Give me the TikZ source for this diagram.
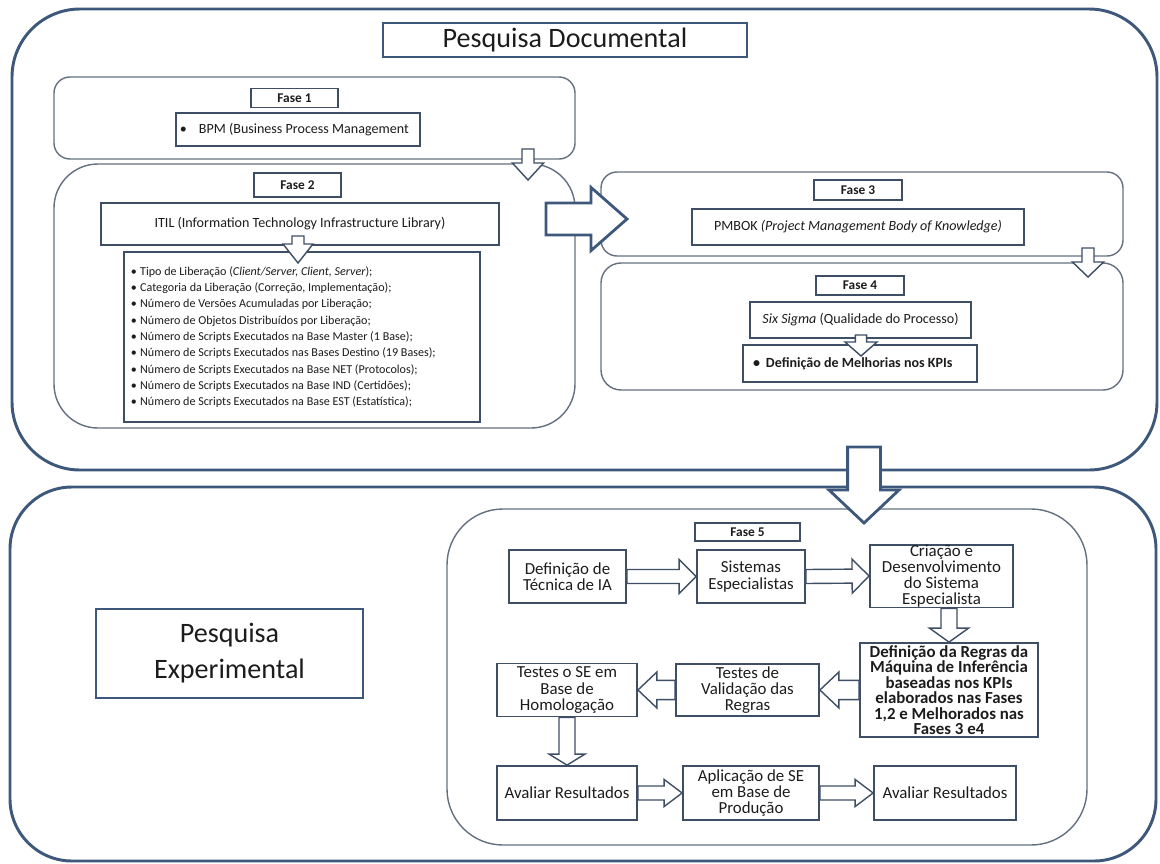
\documentclass[tikz,border=0pt]{standalone}
\usepackage{fontspec}
\setmainfont{Carlito}
\usetikzlibrary{calc}

\definecolor{frameblue}{RGB}{61,88,122}
\definecolor{phasegray}{RGB}{100,112,128}
\definecolor{boxline}{RGB}{62,78,100}
\definecolor{inkdark}{RGB}{28,28,28}

% hollow block arrow from #2 to #3: shaft half width #4, head half width #5, head length #6
\newcommand{\hollowarrow}[6][]{%
  \coordinate (hb) at ($(#3)!#6!(#2)$);
  \draw[#1] ($(#2)!#4!90:(#3)$) -- ($(hb)!#4!90:(#3)$) -- ($(hb)!#5!90:(#3)$)
    -- (#3) -- ($(hb)!#5!-90:(#3)$) -- ($(hb)!#4!-90:(#3)$)
    -- ($(#2)!#4!-90:(#3)$) -- cycle;}
\newcommand{\relitem}{\makebox[2.3mm][l]{\textbullet}}

\begin{document}
\begin{tikzpicture}[x=0.25mm, y=-0.25mm,
sz/.style 2 args={minimum width=#1*0.25mm, minimum height=#2*0.25mm},
outerframe/.style={draw=frameblue, line width=2.1pt, rounded corners=#1},
phasebox/.style={draw=phasegray, line width=1pt, rounded corners=#1},
titlebox/.style={draw=frameblue, line width=1.9pt, text=inkdark, font=\fontsize{20}{25.6}\selectfont, align=center, inner sep=0pt},
phaselabel/.style={draw=boxline, line width=1.1pt, text=inkdark, font=\bfseries\fontsize{9.5}{11}\selectfont, inner sep=0pt},
textbox/.style={draw=boxline, line width=1.1pt, text=inkdark, font=\fontsize{10}{12}\selectfont, inner sep=0pt, align=center},
stepbox/.style={draw=boxline, line width=1.3pt, text=inkdark, font=\fontsize{12}{11.5}\selectfont, inner sep=0pt, align=center},
bigarrow/.style={draw=frameblue, line width=2pt, fill=white},
smallarrow/.style={draw=boxline, line width=1pt, fill=white},
]
\useasboundingbox (0,0) rectangle (1160,864);

%Frames
\node[outerframe=17mm, sz={1145}{461}] at (584.5,239.5) (docFrame) {};
\node[outerframe=15.5mm, sz={1146}{374}] at (583,674) (expFrame) {};
\node[phasebox=4mm, sz={521}{82}]  at (314.5,118) (fase1box) {};
\node[phasebox=11mm, sz={521}{264}] at (314.5,296) (fase2box) {};
\node[phasebox=4mm, sz={522}{84}]  at (862,214) (fase3box) {};
\node[phasebox=5mm, sz={522}{127}] at (862,326.5) (fase4box) {};
\node[phasebox=14mm, sz={640}{336}] at (767,677) (fase5box) {};

%Titles
\node[titlebox, sz={364}{34}] at (565,40) (docTitle) {Pesquisa Documental};
\node[titlebox, sz={267}{89}] at (229.5,653.5) (expTitle) {Pesquisa\\Experimental};

%Phase labels
\node[phaselabel, sz={87}{19}]  at (294.5,98) (lblF1) {Fase 1};
\node[phaselabel, sz={87}{24}]  at (297.5,185) (lblF2) {Fase 2};
\node[phaselabel, sz={88}{20}]  at (858,190) (lblF3) {Fase 3};
\node[phaselabel, sz={88}{19}]  at (860,285.5) (lblF4) {Fase 4};
\node[phaselabel, sz={105}{18}] at (747.5,532) (lblF5) {Fase 5};

%Research boxes
\node[textbox, sz={244}{33}, text width=59mm, inner xsep=1mm, align=flush left] at (298,129.5) (bpm)
  {\makebox[4.75mm][l]{\textbullet}BPM (Business Process Management};
\node[textbox, sz={398}{42}] at (300,224) (itil)
  {ITIL (Information Technology Infrastructure Library)};
\node[textbox, sz={356}{170}, text width=85.5mm, inner xsep=1.75mm, align=flush left,
  font=\fontsize{8.6}{11.6}\selectfont] at (302,337) (relList)
  {\relitem Tipo de Liberação (\textit{Client/Server, Client, Server});\\
   \relitem Categoria da Liberação (Correção, Implementação);\\
   \relitem Número de Versões Acumuladas por Liberação;\\
   \relitem Número de Objetos Distribuídos por Liberação;\\
   \relitem Número de Scripts Executados na Base Master (1 Base);\\
   \relitem Número de Scripts Executados nas Bases Destino (19 Bases);\\
   \relitem Número de Scripts Executados na Base NET (Protocolos);\\
   \relitem Número de Scripts Executados na Base IND (Certidões);\\
   \relitem Número de Scripts Executados na Base EST (Estatística);};
\node[textbox, sz={332}{36}] at (858,227) (pmbok)
  {PMBOK \textit{(Project Management Body of Knowledge)}};
\node[textbox, sz={221}{36}] at (860.5,320) (sixSigma)
  {\textit{Six Sigma} (Qualidade do Processo)};
\node[textbox, sz={234}{37}, text width=53.5mm, inner xsep=2.5mm, align=flush left,
  font=\bfseries\fontsize{10}{12}\selectfont] at (860,363.5) (kpiBox)
  {\makebox[3.25mm][l]{\textbullet}Definição de Melhorias nos KPIs};

%Fase 5 steps
\node[stepbox, sz={117}{53}] at (567.5,576.5) (defIA) {Definição de\\Técnica de IA};
\node[stepbox, sz={108}{53}] at (751,576.5) (sistEsp) {Sistemas\\Especialistas};
\node[stepbox, sz={143}{55}] at (941.5,576) (criacao) {Criação e\\Desenvolvimento\\do Sistema\\Especialista};
\node[stepbox, sz={178}{94}, font=\bfseries\fontsize{12}{11}\selectfont] at (949,690) (defRegras)
  {Definição da Regras da\\Máquina de Inferência\\baseadas nos KPIs\\elaborados nas Fases\\1,2 e Melhorados nas\\Fases 3 e4};
\node[stepbox, sz={143}{52}] at (747.5,690) (testesVal) {Testes de\\Validação das\\Regras};
\node[stepbox, sz={140}{53}] at (567,690) (testesSE) {Testes o SE em\\Base de\\Homologação};
\node[stepbox, sz={140}{54}] at (567,793) (aval1) {Avaliar Resultados};
\node[stepbox, sz={136}{54}] at (751,793) (aplic) {Aplicação de SE\\em Base de\\Produção};
\node[stepbox, sz={142}{54}] at (945,793) (aval2) {Avaliar Resultados};

%Arrow ends
\coordinate (f12a) at (528,149);
\coordinate (f12b) at (528,180);
\coordinate (itilA) at (298,236);
\coordinate (itilB) at (298,263);
\coordinate (f23a) at (546,219);
\coordinate (f23b) at (627,219);
\coordinate (f34a) at (1088,248);
\coordinate (f34b) at (1088,277);
\coordinate (sixA) at (861,335);
\coordinate (sixB) at (861,356);
\coordinate (expA) at (864,447);
\coordinate (expB) at (864,523);

%Lines
\hollowarrow[smallarrow]{f12a}{f12b}{1.5mm}{3.9mm}{4.25mm}
\hollowarrow[smallarrow]{itilA}{itilB}{1.5mm}{3.75mm}{4.75mm}
\hollowarrow[bigarrow]{f23a}{f23b}{4mm}{7.9mm}{9mm}
\hollowarrow[smallarrow]{f34a}{f34b}{1.5mm}{3.9mm}{3.75mm}
\hollowarrow[smallarrow]{sixA}{sixB}{1.4mm}{4mm}{3.5mm}
\hollowarrow[bigarrow]{expA}{expB}{4.1mm}{8.75mm}{8.25mm}
\hollowarrow[smallarrow]{defIA.east}{sistEsp.west}{1.75mm}{4.25mm}{4.25mm}
\hollowarrow[smallarrow]{sistEsp.east}{criacao.west}{1.75mm}{4.25mm}{4.25mm}
\hollowarrow[smallarrow]{criacao.south -| defRegras.north}{defRegras.north}{2mm}{4.9mm}{3.5mm}
\hollowarrow[smallarrow]{defRegras.west}{testesVal.east}{2.4mm}{4.5mm}{4.75mm}
\hollowarrow[smallarrow]{testesVal.west}{testesSE.east}{2.4mm}{4.5mm}{4.75mm}
\hollowarrow[smallarrow]{testesSE.south}{aval1.north}{2mm}{4.5mm}{2.75mm}
\hollowarrow[smallarrow]{aval1.east}{aplic.west}{1.75mm}{3.4mm}{4.5mm}
\hollowarrow[smallarrow]{aplic.east}{aval2.west}{1.75mm}{3.4mm}{4.5mm}
\end{tikzpicture}
\end{document}
